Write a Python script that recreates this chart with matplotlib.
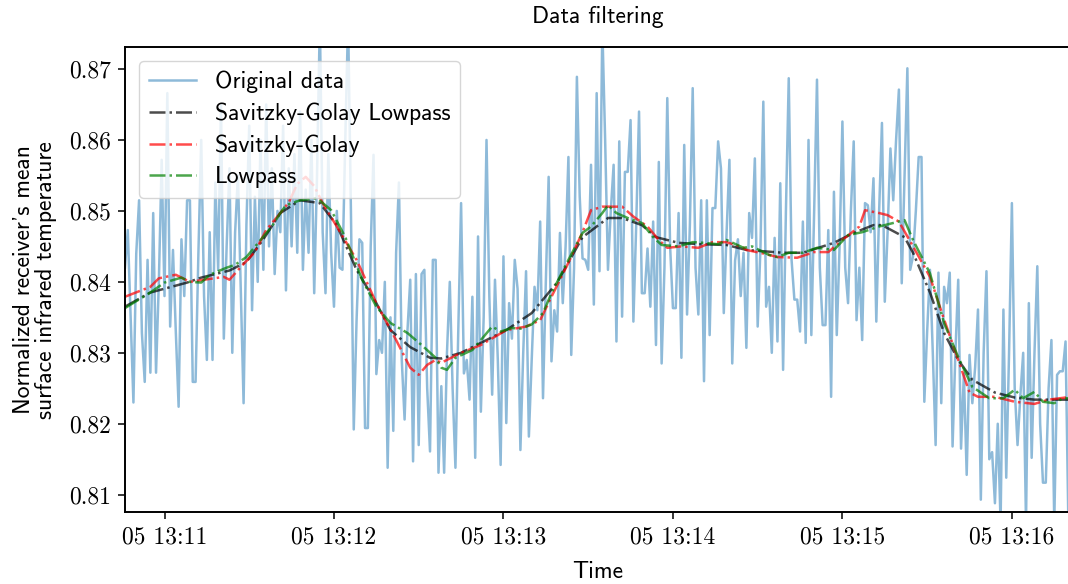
import numpy as np
import pandas as pd
import matplotlib
matplotlib.use("Agg")
import matplotlib.pyplot as plt
import matplotlib.dates as mdates

# raw sensor readings, one per second starting at 13:10:46
start = pd.Timestamp("2021-05-05 13:10:46")
raw = [
    0.8420, 0.8473, 0.8350, 0.8230, 0.8440, 0.8515, 0.8328, 0.8259, 0.8431, 0.8272,
    0.8497, 0.8272, 0.8400, 0.8572, 0.8380, 0.8666, 0.8337, 0.8445, 0.8330, 0.8224,
    0.8460, 0.8380, 0.8515, 0.8515, 0.8259, 0.8259, 0.8440, 0.8600, 0.8380, 0.8290,
    0.8470, 0.8290, 0.8540, 0.8417, 0.8650, 0.8320, 0.8450, 0.8560, 0.8300, 0.8470,
    0.8550, 0.8390, 0.8229, 0.8480, 0.8620, 0.8360, 0.8520, 0.8400, 0.8600, 0.8417,
    0.8650, 0.8450, 0.8560, 0.8411, 0.8500, 0.8470, 0.8620, 0.8388, 0.8560, 0.8450,
    0.8580, 0.8441, 0.8640, 0.8417, 0.8530, 0.8441, 0.8600, 0.8384, 0.8550, 0.8770,
    0.8470, 0.8384, 0.8580, 0.8441, 0.8365, 0.8500, 0.8420, 0.8417, 0.8600, 0.8770,
    0.8500, 0.8192, 0.8346, 0.8460, 0.8455, 0.8194, 0.8194, 0.8450, 0.8579, 0.8270,
    0.8318, 0.8300, 0.8400, 0.8138, 0.8350, 0.8190, 0.8441, 0.8540, 0.8290, 0.8206,
    0.8330, 0.8403, 0.8147, 0.8411, 0.8170, 0.8411, 0.8417, 0.8250, 0.8161, 0.8431,
    0.8431, 0.8131, 0.8253, 0.8131, 0.8300, 0.8400, 0.8250, 0.8138, 0.8330, 0.8511,
    0.8271, 0.8290, 0.8234, 0.8379, 0.8152, 0.8464, 0.8217, 0.8350, 0.8600, 0.8380,
    0.8241, 0.8403, 0.8290, 0.8142, 0.8436, 0.8201, 0.8370, 0.8320, 0.8431, 0.8390,
    0.8163, 0.8300, 0.8415, 0.8182, 0.8290, 0.8393, 0.8360, 0.8485, 0.8236, 0.8400,
    0.8548, 0.8288, 0.8360, 0.8330, 0.8469, 0.8370, 0.8450, 0.8576, 0.8297, 0.8420,
    0.8689, 0.8520, 0.8433, 0.8431, 0.8417, 0.8565, 0.8368, 0.8666, 0.8415, 0.8760,
    0.8600, 0.8417, 0.8500, 0.8565, 0.8316, 0.8598, 0.8351, 0.8555, 0.8555, 0.8628,
    0.8344, 0.8480, 0.8640, 0.8384, 0.8384, 0.8447, 0.8365, 0.8485, 0.8311, 0.8569,
    0.8285, 0.8420, 0.8659, 0.8450, 0.8363, 0.8363, 0.8497, 0.8293, 0.8593, 0.8354,
    0.8480, 0.8673, 0.8420, 0.8354, 0.8515, 0.8260, 0.8515, 0.8325, 0.8504, 0.8504,
    0.8598, 0.8560, 0.8356, 0.8470, 0.8572, 0.8285, 0.8430, 0.8460, 0.8380, 0.8441,
    0.8307, 0.8497, 0.8462, 0.8574, 0.8337, 0.8450, 0.8654, 0.8365, 0.8393, 0.8300,
    0.8462, 0.8316, 0.8539, 0.8276, 0.8500, 0.8687, 0.8431, 0.8375, 0.8375, 0.8330,
    0.8485, 0.8314, 0.8600, 0.8325, 0.8500, 0.8685, 0.8420, 0.8339, 0.8339, 0.8473,
    0.8238, 0.8527, 0.8325, 0.8450, 0.8626, 0.8420, 0.8370, 0.8500, 0.8598, 0.8346,
    0.8420, 0.8318, 0.8511, 0.8508, 0.8470, 0.8546, 0.8344, 0.8500, 0.8624, 0.8372,
    0.8470, 0.8588, 0.8515, 0.8600, 0.8671, 0.8398, 0.8550, 0.8701, 0.8417, 0.8436,
    0.8500, 0.8576, 0.8576, 0.8231, 0.8330, 0.8417, 0.8300, 0.8170, 0.8413, 0.8229,
    0.8393, 0.8370, 0.8413, 0.8168, 0.8300, 0.8403, 0.8165, 0.8271, 0.8128, 0.8297,
    0.8229, 0.8280, 0.8361, 0.8093, 0.8300, 0.8415, 0.8150, 0.8160, 0.8088, 0.8200,
    0.8060, 0.8361, 0.8124, 0.8300, 0.8511, 0.8250, 0.8170, 0.8240, 0.8300, 0.8060,
    0.8370, 0.8152, 0.8300, 0.8422, 0.8200, 0.8117, 0.8117, 0.8250, 0.8318, 0.8060,
    0.8269, 0.8274, 0.8274, 0.8316, 0.8060, 0.8222,
]

# filtered curves, seconds after start -> value
sg_lp_t = [0, 9, 22, 27, 37, 43, 49, 55, 62, 69, 75, 82, 89, 94, 101, 108, 112, 119,
           126, 135, 144, 153, 162, 171, 176, 183, 188, 196, 204, 213, 220, 233, 240,
           251, 258, 265, 268, 276, 279, 285, 290, 295, 300, 308, 315, 322, 335]
sg_lp_v = [0.8365, 0.8385, 0.8399, 0.8406, 0.8416, 0.8428, 0.8460, 0.8497, 0.8515,
           0.8511, 0.8480, 0.8417, 0.8370, 0.8332, 0.8308, 0.8293, 0.8292, 0.8300,
           0.8314, 0.8332, 0.8356, 0.8399, 0.8463, 0.8490, 0.8490, 0.8480, 0.8463,
           0.8455, 0.8453, 0.8452, 0.8445, 0.8441, 0.8441, 0.8455, 0.8469, 0.8480,
           0.8480, 0.8463, 0.8441, 0.8385, 0.8328, 0.8290, 0.8262, 0.8244, 0.8237,
           0.8234, 0.8234]

sg_t = [0, 9, 12, 18, 23, 28, 35, 37, 41, 46, 50, 55, 58, 61, 64, 67, 70, 75, 82, 89,
        96, 101, 104, 107, 110, 112, 119, 126, 135, 142, 147, 151, 157, 162, 165, 169,
        173, 176, 180, 185, 189, 192, 197, 203, 208, 213, 219, 220, 226, 231, 238, 244,
        249, 254, 260, 262, 267, 270, 274, 279, 285, 290, 295, 299, 302, 308, 315, 322,
        327, 335]
sg_v = [0.8379, 0.8393, 0.8405, 0.8410, 0.8400, 0.8403, 0.8407, 0.8403, 0.8421, 0.8442,
        0.8473, 0.8497, 0.8512, 0.8538, 0.8548, 0.8535, 0.8511, 0.8478, 0.8431, 0.8370,
        0.8318, 0.8279, 0.8269, 0.8283, 0.8290, 0.8286, 0.8300, 0.8311, 0.8332, 0.8337,
        0.8346, 0.8379, 0.8427, 0.8470, 0.8501, 0.8506, 0.8506, 0.8506, 0.8492, 0.8478,
        0.8459, 0.8448, 0.8450, 0.8448, 0.8456, 0.8456, 0.8448, 0.8445, 0.8440, 0.8435,
        0.8434, 0.8442, 0.8442, 0.8459, 0.8478, 0.8501, 0.8497, 0.8494, 0.8485, 0.8450,
        0.8407, 0.8347, 0.8290, 0.8244, 0.8238, 0.8238, 0.8231, 0.8228, 0.8234, 0.8238]

lp_t = [0, 9, 14, 20, 23, 27, 30, 36, 39, 43, 48, 52, 55, 57, 62, 68, 73, 78, 84, 89,
        94, 100, 105, 110, 112, 114, 117, 123, 126, 130, 133, 137, 140, 144, 148, 151,
        157, 162, 165, 169, 171, 174, 178, 183, 187, 190, 196, 201, 205, 210, 213, 219,
        222, 228, 231, 235, 240, 245, 251, 256, 261, 267, 272, 276, 279, 285, 290, 295,
        300, 306, 311, 315, 318, 322, 325, 329, 332, 335]
lp_v = [0.8363, 0.8385, 0.8399, 0.8406, 0.8400, 0.8399, 0.8410, 0.8420, 0.8424, 0.8435,
        0.8459, 0.8478, 0.8497, 0.8508, 0.8515, 0.8518, 0.8501, 0.8463, 0.8403, 0.8365,
        0.8342, 0.8328, 0.8311, 0.8293, 0.8279, 0.8276, 0.8293, 0.8304, 0.8318, 0.8337,
        0.8330, 0.8335, 0.8334, 0.8340, 0.8356, 0.8384, 0.8431, 0.8469, 0.8478, 0.8497,
        0.8508, 0.8497, 0.8490, 0.8483, 0.8463, 0.8452, 0.8450, 0.8456, 0.8455, 0.8453,
        0.8459, 0.8448, 0.8450, 0.8438, 0.8435, 0.8441, 0.8441, 0.8448, 0.8445, 0.8466,
        0.8470, 0.8478, 0.8483, 0.8487, 0.8459, 0.8412, 0.8342, 0.8294, 0.8252, 0.8236,
        0.8236, 0.8248, 0.8236, 0.8245, 0.8231, 0.8229, 0.8236, 0.8236]


def to_time(sec):
    return start + pd.to_timedelta(np.asarray(sec), unit="s")


raw_time = to_time(np.arange(len(raw)))

serif = "cmr10"
sans = "cmss10"
fs = 17
plt.rcParams["font.family"] = sans
plt.rcParams["axes.unicode_minus"] = False

fig = plt.figure(figsize=(10.68, 5.84), dpi=100)
ax = fig.add_axes([0.117, 0.1225, 0.886, 0.797])

ax.plot(raw_time, raw, color="C0", alpha=0.5, lw=1.8, label="Original data")
ax.plot(to_time(sg_lp_t), sg_lp_v, "k-.", alpha=0.7, lw=1.8, label="Savitzky-Golay Lowpass")
ax.plot(to_time(sg_t), sg_v, "r-.", alpha=0.7, lw=1.8, label="Savitzky-Golay")
ax.plot(to_time(lp_t), lp_v, "g-.", alpha=0.7, lw=1.8, label="Lowpass")

ax.set_xlim(raw_time[0], raw_time[-1])
ax.set_ylim(0.8075, 0.8731)
ax.set_yticks([0.81, 0.82, 0.83, 0.84, 0.85, 0.86, 0.87])
ax.yaxis.set_major_formatter(plt.FuncFormatter(lambda v, p: f"{v:.2f}"))
ax.xaxis.set_major_locator(mdates.MinuteLocator())
ax.xaxis.set_major_formatter(mdates.DateFormatter("%d %H:%M"))
ax.spines["right"].set_visible(False)
ax.tick_params(length=5, width=1.1, labelsize=fs, pad=5)
for s in ax.spines.values():
    s.set_linewidth(1.4)
for lab in ax.get_xticklabels() + ax.get_yticklabels():
    lab.set_fontfamily(serif)

ax.set_title("Data filtering", fontsize=fs, pad=17)
ax.set_xlabel("Time", fontsize=fs, labelpad=9)
ax.set_ylabel("Normalized receiver's mean\nsurface infrared temperature", fontsize=fs,
              labelpad=9, linespacing=1.0)
ax.legend(loc="upper left", fontsize=fs, handlelength=2.0, borderaxespad=0.6,
          labelspacing=0.4)

fig.savefig("out.png", dpi=100)
